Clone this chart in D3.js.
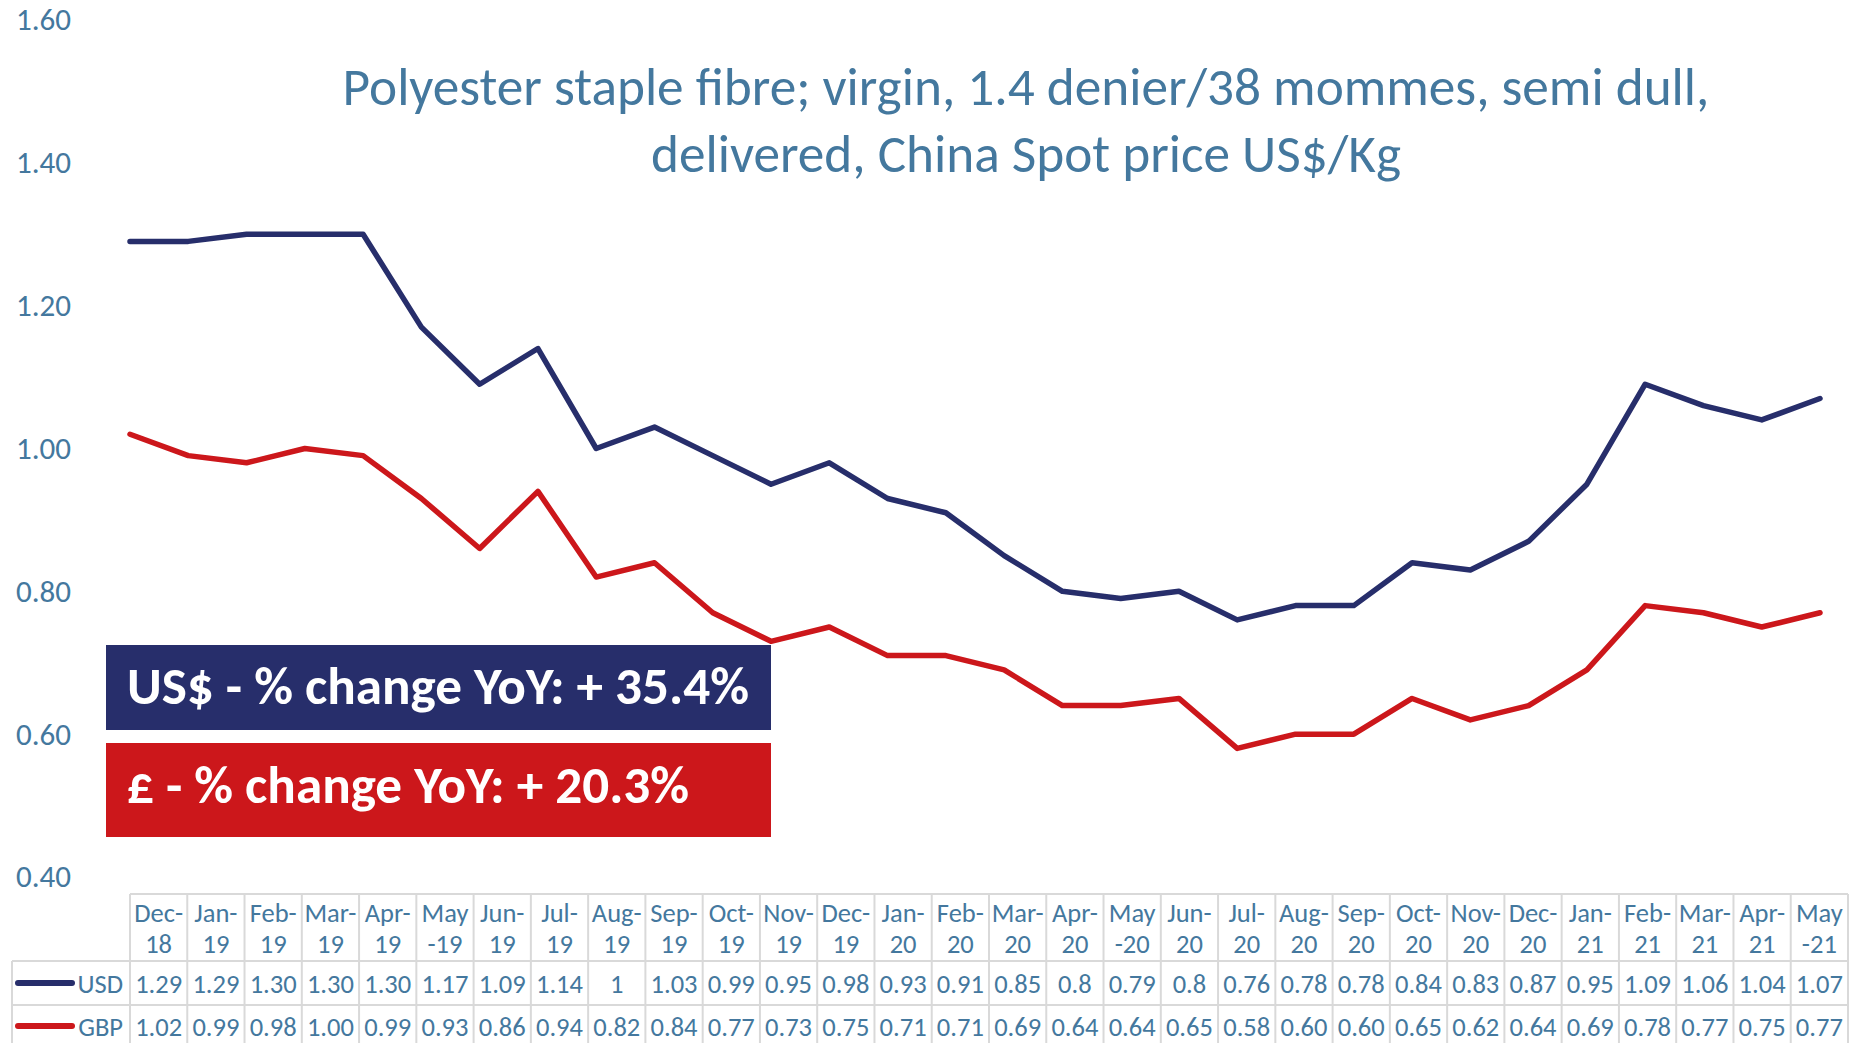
<!DOCTYPE html>
<html>
<head>
<meta charset="utf-8">
<script src="https://cdn.jsdelivr.net/npm/d3@7"></script>
<style>
  body { margin: 0; background: #fff; }
  svg { display: block; font-family: Carlito, Calibri, Lato, "Open Sans", sans-serif; }
</style>
</head>
<body>
<svg id="chart" width="1855" height="1043"></svg>
<script>
// chart data
var months = ["Dec-18", "Jan-19", "Feb-19", "Mar-19", "Apr-19", "May-19", "Jun-19", "Jul-19", "Aug-19", "Sep-19",
  "Oct-19", "Nov-19", "Dec-19", "Jan-20", "Feb-20", "Mar-20", "Apr-20", "May-20", "Jun-20", "Jul-20",
  "Aug-20", "Sep-20", "Oct-20", "Nov-20", "Dec-20", "Jan-21", "Feb-21", "Mar-21", "Apr-21", "May-21"];

var usd = [1.29, 1.29, 1.30, 1.30, 1.30, 1.17, 1.09, 1.14, 1, 1.03, 0.99, 0.95, 0.98, 0.93, 0.91, 0.85, 0.8, 0.79, 0.8, 0.76,
  0.78, 0.78, 0.84, 0.83, 0.87, 0.95, 1.09, 1.06, 1.04, 1.07];
var gbp = [1.02, 0.99, 0.98, 1.00, 0.99, 0.93, 0.86, 0.94, 0.82, 0.84, 0.77, 0.73, 0.75, 0.71, 0.71, 0.69, 0.64, 0.64, 0.65, 0.58,
  0.60, 0.60, 0.65, 0.62, 0.64, 0.69, 0.78, 0.77, 0.75, 0.77];

// table cells as printed
var usdText = ["1.29", "1.29", "1.30", "1.30", "1.30", "1.17", "1.09", "1.14", "1", "1.03", "0.99", "0.95", "0.98", "0.93", "0.91",
  "0.85", "0.8", "0.79", "0.8", "0.76", "0.78", "0.78", "0.84", "0.83", "0.87", "0.95", "1.09", "1.06", "1.04", "1.07"];
var gbpText = ["1.02", "0.99", "0.98", "1.00", "0.99", "0.93", "0.86", "0.94", "0.82", "0.84", "0.77", "0.73", "0.75", "0.71", "0.71",
  "0.69", "0.64", "0.64", "0.65", "0.58", "0.60", "0.60", "0.65", "0.62", "0.64", "0.69", "0.78", "0.77", "0.75", "0.77"];

var yTicks = [0.40, 0.60, 0.80, 1.00, 1.20, 1.40, 1.60];

var titleLines = ["Polyester staple fibre; virgin, 1.4 denier/38 mommes, semi dull,",
  "delivered, China Spot price US$/Kg"];
var usdNote = "US$ - % change YoY: + 35.4%";
var gbpNote = "£ - % change YoY: + 20.3%";

var textCol = "#44789e";
var navy = "#272e6b";
var red = "#cc171b";
var grid = "#d9d9d9";

var svg = d3.select("#chart");

var x = d3.scalePoint().domain(months).range([130, 1820]);
var y = d3.scaleLinear().domain([0.4, 1.6]).range([877, 20]);
var col = d3.scaleBand().domain(months).range([130, 1848]);

// font size so a string takes a given width
function fitSize(str, weight, width)
{
	var t = svg.append("text").attr("font-size", 100).attr("font-weight", weight).text(str);
	var w = t.node().getComputedTextLength();
	t.remove();
	return 100 * width / w;
}

// y axis labels
var yAxis = d3.axisLeft(y).tickValues(yTicks).tickFormat(d3.format(".2f")).tickSize(0).tickPadding(0);
var ay = svg.append("g").attr("transform", "translate(71,0)").call(yAxis);
ay.attr("font-family", null).attr("font-size", null);
ay.select(".domain").remove();
ay.selectAll("text")
	.attr("fill", textCol)
	.attr("font-size", fitSize("1.60", 400, 55));

// title
var titleSize = fitSize(titleLines[0], 400, 1367);
svg.append("text")
	.attr("x", 1026)
	.attr("text-anchor", "middle")
	.attr("fill", textCol)
	.attr("font-size", titleSize)
	.selectAll("tspan")
	.data(titleLines)
	.join("tspan")
	.attr("x", 1026)
	.attr("y", function(d, i) { return 105 + i * 67; })
	.text(function(d) { return d; });

// series lines
var line = d3.line()
	.x(function(d, i) { return x(months[i]); })
	.y(function(d) { return y(d); });

svg.append("path").datum(gbp)
	.attr("d", line)
	.attr("fill", "none")
	.attr("stroke", red)
	.attr("stroke-width", 5.5)
	.attr("stroke-linejoin", "round")
	.attr("stroke-linecap", "round");

svg.append("path").datum(usd)
	.attr("d", line)
	.attr("fill", "none")
	.attr("stroke", navy)
	.attr("stroke-width", 5.5)
	.attr("stroke-linejoin", "round")
	.attr("stroke-linecap", "round");

// YoY boxes
var noteSize = fitSize(usdNote, 700, 622);
var notes = [
	{ text: usdNote, fill: navy, top: 645, bottom: 730, base: 704 },
	{ text: gbpNote, fill: red, top: 743, bottom: 837, base: 803 }
];
var ng = svg.append("g").selectAll("g").data(notes).join("g");
ng.append("rect")
	.attr("x", 106)
	.attr("y", function(d) { return d.top; })
	.attr("width", 771 - 106)
	.attr("height", function(d) { return d.bottom - d.top; })
	.attr("fill", function(d) { return d.fill; });
ng.append("text")
	.attr("x", 127)
	.attr("y", function(d) { return d.base; })
	.attr("fill", "#fff")
	.attr("font-weight", 700)
	.attr("font-size", noteSize)
	.text(function(d) { return d.text; });

// data table
var tbl = svg.append("g");
var tableTop = 894, headBottom = 961, usdBottom = 1005, gbpBottom = 1049;
var cellSize = fitSize("1.29", 400, 47);

tbl.append("line").attr("x1", 130).attr("x2", 1848).attr("y1", tableTop).attr("y2", tableTop);
[headBottom, usdBottom, gbpBottom].forEach(function(yy)
{
	tbl.append("line").attr("x1", 12).attr("x2", 1848).attr("y1", yy).attr("y2", yy);
});
tbl.append("line").attr("x1", 12).attr("x2", 12).attr("y1", headBottom).attr("y2", 1043);
months.forEach(function(m)
{
	var xx = col(m);
	tbl.append("line").attr("x1", xx).attr("x2", xx).attr("y1", tableTop).attr("y2", 1043);
});
tbl.append("line").attr("x1", 1848).attr("x2", 1848).attr("y1", tableTop).attr("y2", 1043);
tbl.selectAll("line").attr("stroke", grid).attr("stroke-width", 2);

function headParts(m)
{
	if (m.indexOf("May") == 0)
		return ["May", m.slice(3)];
	var i = m.indexOf("-");
	return [m.slice(0, i + 1), m.slice(i + 1)];
}

var cells = tbl.append("g")
	.attr("fill", textCol)
	.attr("font-size", cellSize)
	.attr("text-anchor", "middle")
	.attr("dominant-baseline", "central");

months.forEach(function(m, i)
{
	var cx = col(m) + col.bandwidth() / 2;
	var parts = headParts(m);
	cells.append("text").attr("x", cx).attr("y", 913).text(parts[0]);
	cells.append("text").attr("x", cx).attr("y", 944).text(parts[1]);
	cells.append("text").attr("x", cx).attr("y", 984).text(usdText[i]);
	cells.append("text").attr("x", cx).attr("y", 1027).text(gbpText[i]);
});

// legend keys in the table
var keys = [
	{ name: "USD", color: navy, y: 983 },
	{ name: "GBP", color: red, y: 1026 }
];
keys.forEach(function(k)
{
	tbl.append("line")
		.attr("x1", 18).attr("x2", 72)
		.attr("y1", k.y).attr("y2", k.y)
		.attr("stroke", k.color)
		.attr("stroke-width", 6)
		.attr("stroke-linecap", "round");
	tbl.append("text")
		.attr("x", 123).attr("y", k.y + 1)
		.attr("text-anchor", "end")
		.attr("dominant-baseline", "central")
		.attr("fill", textCol)
		.attr("font-size", cellSize)
		.text(k.name);
});
</script>
</body>
</html>
